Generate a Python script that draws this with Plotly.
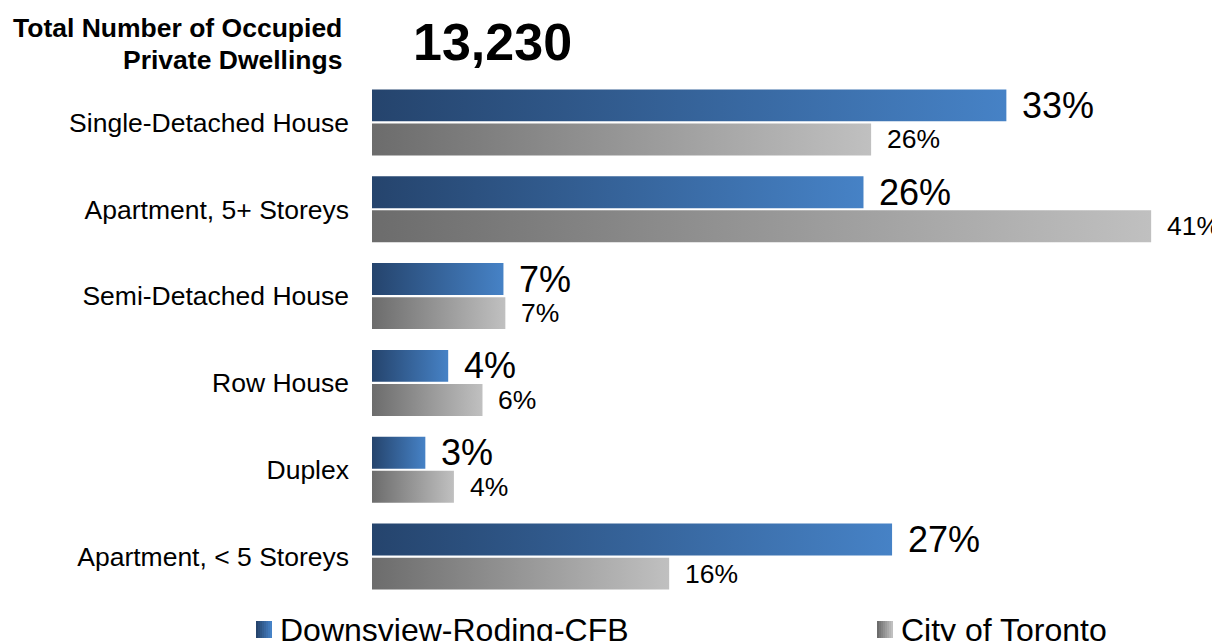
import plotly.graph_objects as go

# ---- data ----
categories = ["Single-Detached House", "Apartment, 5+ Storeys", "Semi-Detached House",
              "Row House", "Duplex", "Apartment, < 5 Storeys"]
downsview = [33.3, 25.8, 6.9, 4.0, 2.8, 27.3]
toronto = [26.2, 40.9, 7.0, 5.8, 4.3, 15.6]
series_names = ["Downsview-Roding-CFB", "City of Toronto"]
total_label = "13,230"
title_lines = ["Total Number of Occupied", "Private Dwellings"]

# ---- style ----
OFF = 8                      # page body margin offset
W, H = 1220 - OFF, 641 - OFF
PLOT_L, PLOT_T, PLOT_B = 372, 79, 600   # in screen pixels
ML = PLOT_L - OFF
MT = PLOT_T - OFF
MB = (641 - PLOT_B)
MR = 0
PW, PH = W - ML - MR, H - MT - MB
PX_PER_PCT = 19.05
XMAX = PW / PX_PER_PCT
FONT = "Liberation Sans, Arial, sans-serif"
BLUE = ["#25446d", "#4682c6"]
GRAY = ["#6c6c6c", "#c0c0c0"]
BAR_OUT, BAR_IN = 0.38, 0.012


def px2x(px):
    return (px - PLOT_L) / PW


def px2y(py):
    return (PLOT_T + PH - py) / PH


def hexrgb(h):
    h = h.lstrip("#")
    return tuple(int(h[i:i + 2], 16) for i in (0, 2, 4))


def mix(c0, c1, t):
    a, b = hexrgb(c0), hexrgb(c1)
    return "rgb(%d,%d,%d)" % tuple(round(a[i] + (b[i] - a[i]) * t) for i in range(3))


fig = go.Figure()
annotations = []

for i, cat in enumerate(categories):
    for val, sign, cols, fsize, xs in ((downsview[i], -1, BLUE, 36, 14), (toronto[i], 1, GRAY, 26.5, 14)):
        y_in = i + sign * BAR_IN
        y_out = i + sign * BAR_OUT
        fig.add_trace(go.Scatter(
            x=[0, val, val, 0, 0],
            y=[y_in, y_in, y_out, y_out, y_in],
            mode="lines", fill="toself", line=dict(width=0),
            fillgradient=dict(type="horizontal", colorscale=[[0, cols[0]], [1, cols[1]]]),
            hoverinfo="skip", showlegend=False,
        ))
        annotations.append(dict(
            x=val, y=(y_in + y_out) / 2, xref="x", yref="y",
            text=f"{round(val)}%", showarrow=False, xanchor="left", yanchor="middle",
            xshift=xs, font=dict(family=FONT, size=fsize, color="black"),
        ))

# header texts
annotations.append(dict(x=px2x(344), y=px2y(28), xref="paper", yref="paper",
                        text=f"<b>{title_lines[0]}</b>", showarrow=False,
                        xanchor="right", yanchor="middle",
                        font=dict(family=FONT, size=26.5, color="black")))
annotations.append(dict(x=px2x(344), y=px2y(60), xref="paper", yref="paper",
                        text=f"<b>{title_lines[1]}</b>", showarrow=False,
                        xanchor="right", yanchor="middle",
                        font=dict(family=FONT, size=26.5, color="black")))
annotations.append(dict(x=px2x(492), y=px2y(42), xref="paper", yref="paper",
                        text=f"<b>{total_label}</b>", showarrow=False,
                        xanchor="center", yanchor="middle",
                        font=dict(family=FONT, size=52, color="black")))

# legend
shapes = []
for name, cols, icon_x in ((series_names[0], BLUE, 256), (series_names[1], GRAY, 877)):
    n = 8
    w = 16
    for k in range(n):
        shapes.append(dict(type="rect", xref="paper", yref="paper",
                           x0=px2x(icon_x + w * k / n), x1=px2x(icon_x + w * (k + 1) / n),
                           y0=px2y(638), y1=px2y(621), line=dict(width=0),
                           fillcolor=mix(cols[0], cols[1], k / (n - 1))))
    annotations.append(dict(x=px2x(icon_x + 22), y=px2y(630), xref="paper", yref="paper",
                            text=name, showarrow=False, xanchor="left", yanchor="middle",
                            font=dict(family=FONT, size=32, color="black")))

fig.update_layout(
    width=W, height=H,
    margin=dict(l=ML, r=MR, t=MT, b=MB),
    paper_bgcolor="white", plot_bgcolor="white",
    showlegend=False,
    xaxis=dict(range=[0, XMAX], visible=False, fixedrange=True),
    yaxis=dict(range=[len(categories) - 0.5, -0.5], tickmode="array",
               tickvals=list(range(len(categories))), ticktext=categories,
               showgrid=False, zeroline=False, showline=False, ticks="",
               ticklabelstandoff=22,
               tickfont=dict(family=FONT, size=26.5, color="black")),
    annotations=annotations, shapes=shapes,
)

fig.write_html("out.html")
